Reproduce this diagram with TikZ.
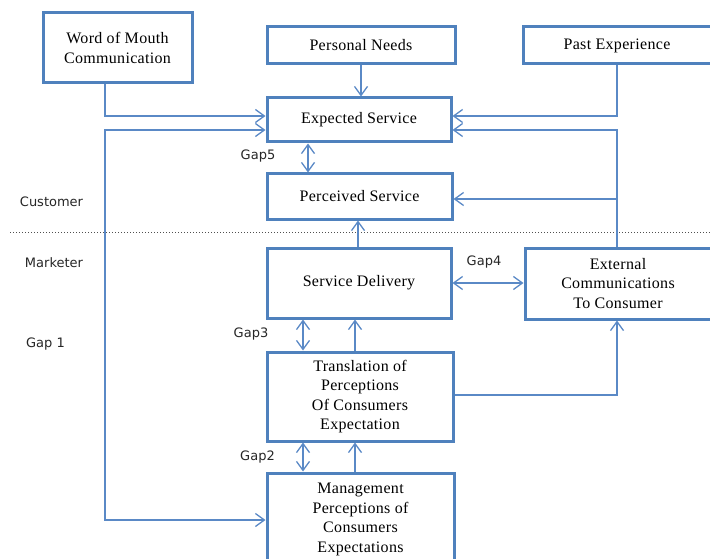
\documentclass[tikz,border=0pt]{standalone}
\usepackage{fontspec}
\setmainfont{Liberation Serif}[LetterSpace=2]
\newfontfamily\lblfont{DejaVu Sans}
\usetikzlibrary{arrows.meta}
\definecolor{boxblue}{HTML}{4F81BD}
\definecolor{lineblue}{HTML}{5A89C6}
\definecolor{dotgray}{HTML}{505050}
\tikzset{
  box/.style={draw=boxblue, line width=3pt, rectangle, inner sep=0pt, outer sep=1.5pt,
    align=center, font=\fontsize{16}{19.5}\selectfont, text=black},
  conn/.style={draw=lineblue, line width=1.3pt, >={Straight Barb[length=9pt,width=13pt]}},
  lbl/.style={font=\lblfont\fontsize{13}{15}\selectfont, text=black!85, inner sep=0pt}
}
\begin{document}
\begin{tikzpicture}[x=1pt, y=-1pt]
\useasboundingbox (0,0) rectangle (710,559);
\clip (0,0) rectangle (710,559);

% boxes
\node[box, minimum width=149pt, minimum height=70pt] (wom) at (117.5,48) {Word of Mouth\\Communication};
\node[box, minimum width=188pt, minimum height=37pt] (pn) at (361,45.5) {Personal Needs};
\node[box, minimum width=188pt, minimum height=37pt] (pe) at (617,45.5) {Past Experience};
\node[box, minimum width=184pt, minimum height=44pt] (exp) at (359,120) {Expected Service};
\node[box, minimum width=185pt, minimum height=45pt] (per) at (359.5,196.5) {Perceived Service};
\node[box, minimum width=184pt, minimum height=70pt] (sd) at (359,283) {Service Delivery};
\node[box, minimum width=186pt, minimum height=71pt] (ec) at (618,283.5) {External\\Communications\\To Consumer};
\node[box, minimum width=186pt, minimum height=89pt] (tr) at (360,396.5) {Translation of\\Perceptions\\Of Consumers\\Expectation};
\node[box, minimum width=187pt, minimum height=93pt] (mg) at (360.5,519.5) {Management\\Perceptions of\\Consumers\\Expectations};

% customer / marketer divider
\draw[dotgray, line width=0.9pt, dash pattern=on 1pt off 2pt] (10,232) -- (710,232);

% labels
\node[lbl] (lcust) at (51.5,202) {Customer};
\node[lbl] (lmark) at (54,263) {Marketer};
\node[lbl] (lgap1) at (45.5,344) {Gap 1};
\node[lbl] (lgap5) at (258,156) {Gap5};
\node[lbl] (lgap4) at (484,262) {Gap4};
\node[lbl] (lgap3) at (251,334) {Gap3};
\node[lbl] (lgap2) at (257.5,457) {Gap2};

% connectors
\coordinate (g1) at (105,520);
\coordinate (ecj) at (617,199);
\draw[conn,->] (wom.south -| 105,0) |- (exp.west |- 0,116);
\draw[conn,<->] (exp.west |- 0,130) -| (g1) -- (mg.west |- g1);
\draw[conn,->] (pn.south) -- (pn.south |- exp.north);
\draw[conn,->] (pe.south) |- (exp.east |- 0,116);
\draw[conn,->] (ec.north -| ecj) |- (exp.east |- 0,130);
\draw[conn,->] (ecj) -- (per.east |- ecj);
\draw[conn,->] (sd.north -| 358,0) -- (per.south -| 358,0);
\draw[conn,<->] (exp.south -| 308,0) -- (per.north -| 308,0);
\draw[conn,<->] (sd.east) -- (ec.west |- sd.east);
\draw[conn,<->] (tr.north -| 303,0) -- (sd.south -| 303,0);
\draw[conn,->] (tr.north -| 355,0) -- (sd.south -| 355,0);
\draw[conn,->] (tr.east |- 0,395) -| (ec.south -| ecj);
\draw[conn,<->] (mg.north -| 303,0) -- (tr.south -| 303,0);
\draw[conn,->] (mg.north -| 355,0) -- (tr.south -| 355,0);
\end{tikzpicture}
\end{document}
